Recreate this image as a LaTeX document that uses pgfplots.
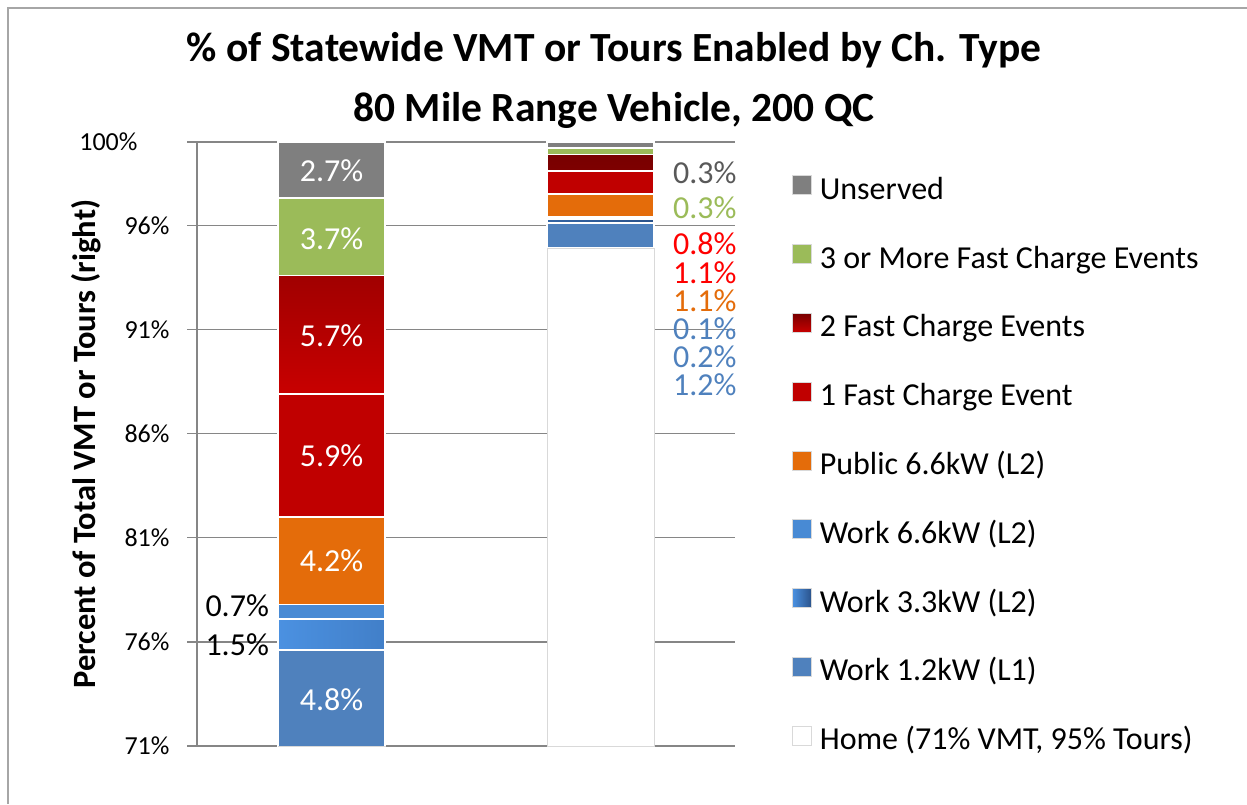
\documentclass[border=0pt]{standalone}
\usepackage{fontspec}
\setmainfont{Carlito}
\usepackage{pgfplots}
\pgfplotsset{compat=1.18}
\usepackage{pgfplotstable}

\definecolor{unsC}{RGB}{127,127,127}
\definecolor{fc3C}{RGB}{155,187,89}
\definecolor{fc2top}{RGB}{120,0,0}
\definecolor{fc2bot}{RGB}{200,0,0}
\definecolor{fc1C}{RGB}{192,0,0}
\definecolor{pubC}{RGB}{228,108,10}
\definecolor{w66side}{RGB}{72,138,212}
\definecolor{w66mid}{RGB}{38,68,115}
\definecolor{w33left}{RGB}{75,145,225}
\definecolor{w33right}{RGB}{42,82,138}
\definecolor{w12C}{RGB}{79,129,189}
\definecolor{gridC}{RGB}{134,134,134}
\definecolor{txtGray}{RGB}{89,89,89}
\definecolor{txtRed}{RGB}{255,0,0}

\pgfplotstableread{
x home w12 w33 w66 pub fc1 fc2 fc3 uns
0 70.8 4.8 1.5 0.7 4.2 5.9 5.7 3.7 2.7
1 94.9 1.2 0.2 0.1 1.1 1.1 0.8 0.3 0.3
}\data

\newcommand\lab{\fontsize{32}{32}\selectfont}

\begin{document}
\begin{tikzpicture}
\path[use as bounding box] (0,0) rectangle (1247pt,804pt);
\draw[color=black!35, line width=2pt] (8pt,0) -- (8pt,796pt) -- (1247pt,796pt);

\node[font=\fontsize{41.5}{48}\bfseries, anchor=base] at (614pt,742pt) {\% of Statewide VMT or Tours Enabled by Ch. Type};
\node[font=\fontsize{41.5}{48}\bfseries, anchor=base] at (614pt,682pt) {80 Mile Range Vehicle, 200 QC};
\node[font=\fontsize{32.5}{32.5}\bfseries, rotate=90] at (86pt,360pt) {Percent of Total VMT or Tours (right)};

\begin{axis}[
  at={(197pt,58pt)}, anchor=south west,
  scale only axis, width=538pt, height=604pt,
  xmin=-0.5, xmax=1.5, ymin=71, ymax=100,
  ybar stacked, bar width=107pt,
  axis x line=none, axis y line*=left,
  axis line style={color=gridC, line width=1.5pt},
  ytick={71,76,81,86,91,96},
  yticklabels={71\%,76\%,81\%,86\%,91\%,96\%},
  extra y ticks={100}, extra y tick labels={100\%},
  extra y tick style={grid=major, yticklabel style={xshift=-32pt}},
  ymajorgrids,
  grid style={color=gridC, line width=1.5pt},
  tick align=outside, major tick length=10pt,
  tick style={color=gridC, line width=1.5pt},
  yticklabel style={font=\fontsize{26}{26}\selectfont, anchor=east, xshift=-14pt},
  legend cell align=left,
  reverse legend,
  legend image code/.code={\path[#1, draw=black!15, line width=0.6pt] (0pt,-3pt) rectangle (19pt,16pt);},
  legend style={
    at={(1.106,0.945)}, anchor=north west, draw=none, fill=none,
    inner sep=0pt, row sep=38pt,
    font=\fontsize{32}{32}\selectfont,
    nodes={inner sep=0pt, text height=22pt, text depth=7pt},
    /tikz/every odd column/.append style={column sep=8pt},
  },
]
\addplot[fill=white, draw=black!15, line width=1pt] table[x=x,y=home]{\data};
\addlegendentry{Home (71\% VMT, 95\% Tours)}
\addplot[fill=w12C, draw=white, line width=1.5pt] table[x=x,y=w12]{\data};
\addlegendentry{Work 1.2kW (L1)}
\addplot[left color=w33left, right color=w33right, draw=white, line width=1.5pt] table[x=x,y=w33]{\data};
\addlegendentry{Work 3.3kW (L2)}
\addplot[left color=w66side, middle color=w66mid, right color=w66side, draw=white, line width=1.5pt] table[x=x,y=w66]{\data};
\addlegendentry{Work 6.6kW (L2)}
\addplot[fill=pubC, draw=white, line width=1.5pt] table[x=x,y=pub]{\data};
\addlegendentry{Public 6.6kW (L2)}
\addplot[fill=fc1C, draw=white, line width=1.5pt] table[x=x,y=fc1]{\data};
\addlegendentry{1 Fast Charge Event}
\addplot[top color=fc2top, bottom color=fc2bot, draw=white, line width=1.5pt] table[x=x,y=fc2]{\data};
\addlegendentry{2 Fast Charge Events}
\addplot[fill=fc3C, draw=white, line width=1.5pt] table[x=x,y=fc3]{\data};
\addlegendentry{3 or More Fast Charge Events}
\addplot[fill=unsC, draw=white, line width=1.5pt] table[x=x,y=uns]{\data};
\addlegendentry{Unserved}

% anchor points for the value labels
\coordinate (a1) at (axis cs:0,73.2);
\coordinate (a2) at (axis cs:0,79.9);
\coordinate (a3) at (axis cs:0,84.95);
\coordinate (a4) at (axis cs:0,90.7);
\coordinate (a5) at (axis cs:0,95.35);
\coordinate (a6) at (axis cs:0,98.6);
\coordinate (b1) at (axis cs:-0.232,77.72);
\coordinate (b2) at (axis cs:-0.232,75.85);
\coordinate (c1) at (axis cs:1.2695,98.53);
\coordinate (c2) at (axis cs:1.2695,96.85);
\coordinate (c3) at (axis cs:1.2695,95.13);
\coordinate (c4) at (axis cs:1.2695,93.73);
\coordinate (c5) at (axis cs:1.2695,92.37);
\coordinate (c6) at (axis cs:1.2695,91.05);
\coordinate (c7) at (axis cs:1.2695,89.70);
\coordinate (c8) at (axis cs:1.2695,88.33);
\end{axis}

\node[text=white, font=\lab] at (a1) {4.8\%};
\node[text=white, font=\lab] at (a2) {4.2\%};
\node[text=white, font=\lab] at (a3) {5.9\%};
\node[text=white, font=\lab] at (a4) {5.7\%};
\node[text=white, font=\lab] at (a5) {3.7\%};
\node[text=white, font=\lab] at (a6) {2.7\%};
\node[text=black, font=\lab, anchor=east, inner sep=0pt] at (b1) {0.7\%};
\node[text=black, font=\lab, anchor=east, inner sep=0pt] at (b2) {1.5\%};
\node[text=txtGray, font=\lab, anchor=west, inner sep=0pt] at (c1) {0.3\%};
\node[text=fc3C, font=\lab, anchor=west, inner sep=0pt] at (c2) {0.3\%};
\node[text=txtRed, font=\lab, anchor=west, inner sep=0pt] at (c3) {0.8\%};
\node[text=txtRed, font=\lab, anchor=west, inner sep=0pt] at (c4) {1.1\%};
\node[text=pubC, font=\lab, anchor=west, inner sep=0pt] at (c5) {1.1\%};
\node[text=w12C, font=\lab, anchor=west, inner sep=0pt] at (c6) {0.1\%};
\node[text=w12C, font=\lab, anchor=west, inner sep=0pt] at (c7) {0.2\%};
\node[text=w12C, font=\lab, anchor=west, inner sep=0pt] at (c8) {1.2\%};
\end{tikzpicture}
\end{document}
